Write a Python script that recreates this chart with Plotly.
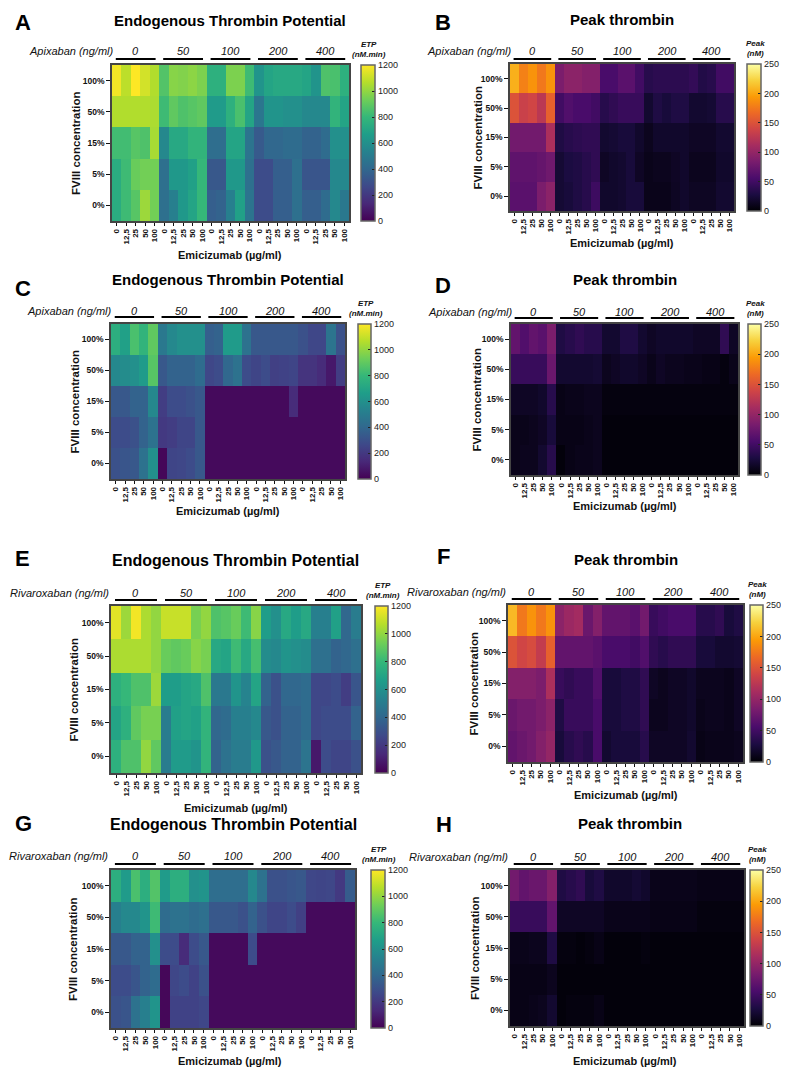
import plotly.graph_objects as go

W, H = 789, 1069

# FVIII rows (top to bottom), emicizumab columns inside each anticoagulant dose group
fviii = ["100%", "50%", "15%", "5%", "0%"]
emici = ["0", "12,5", "25", "50", "100"]
doses = ["0", "50", "100", "200", "400"]

# ETP (nM.min), apixaban, plasma 1
etp_a = [
    [1180, 1080, 1200, 1120, 1060, 870, 980, 970, 990, 960, 760, 760, 960, 960, 820, 620, 700, 720, 720, 720, 700, 620, 860, 850, 760],
    [1060, 1060, 1060, 1060, 1050, 820, 900, 860, 880, 900, 650, 650, 760, 850, 700, 470, 620, 620, 600, 600, 560, 560, 560, 780, 700],
    [830, 830, 880, 860, 1040, 560, 720, 720, 780, 780, 430, 430, 700, 700, 460, 340, 400, 400, 420, 420, 380, 380, 420, 600, 600],
    [740, 820, 920, 940, 940, 440, 640, 640, 680, 800, 330, 330, 640, 640, 440, 280, 280, 360, 360, 440, 320, 320, 320, 560, 560],
    [740, 820, 880, 1020, 940, 440, 520, 640, 700, 800, 360, 380, 520, 680, 460, 280, 280, 360, 360, 440, 360, 360, 420, 560, 480],
]
# Peak thrombin (nM), apixaban, plasma 1
peak_b = [
    [205, 180, 190, 175, 190, 85, 95, 95, 90, 90, 55, 55, 65, 65, 50, 35, 38, 38, 38, 38, 42, 32, 35, 50, 50],
    [150, 135, 140, 125, 160, 50, 60, 55, 55, 50, 35, 40, 45, 45, 45, 20, 30, 25, 30, 30, 20, 20, 22, 35, 35],
    [80, 80, 80, 80, 115, 30, 35, 38, 40, 40, 20, 22, 25, 25, 18, 12, 18, 18, 18, 18, 15, 15, 15, 20, 20],
    [68, 68, 68, 72, 78, 22, 28, 30, 35, 40, 15, 18, 20, 25, 15, 10, 12, 12, 15, 18, 12, 12, 12, 18, 18],
    [65, 65, 65, 85, 95, 22, 25, 30, 35, 48, 18, 18, 20, 25, 25, 10, 10, 10, 14, 18, 14, 14, 14, 20, 20],
]
# ETP (nM.min), apixaban, plasma 2
etp_c = [
    [750, 680, 850, 780, 900, 480, 560, 600, 600, 600, 360, 380, 650, 650, 450, 330, 330, 330, 330, 330, 300, 260, 260, 460, 300],
    [560, 580, 600, 650, 880, 330, 380, 380, 380, 420, 260, 280, 400, 450, 280, 250, 280, 230, 240, 250, 180, 180, 150, 80, 220],
    [330, 330, 380, 380, 560, 220, 280, 280, 300, 330, 30, 30, 30, 30, 30, 30, 30, 30, 30, 150, 30, 30, 30, 30, 30],
    [280, 280, 300, 380, 450, 200, 220, 250, 250, 330, 30, 30, 30, 30, 30, 30, 30, 30, 30, 30, 30, 30, 30, 30, 30],
    [300, 320, 330, 450, 600, 20, 250, 260, 280, 330, 30, 30, 30, 30, 30, 30, 30, 30, 30, 30, 30, 30, 30, 30, 30],
]
# Peak thrombin (nM), apixaban, plasma 2
peak_d = [
    [70, 60, 70, 65, 85, 30, 35, 40, 35, 35, 20, 20, 30, 30, 20, 15, 18, 18, 18, 18, 15, 15, 15, 40, 15],
    [45, 45, 45, 45, 75, 20, 20, 20, 20, 22, 12, 15, 18, 18, 15, 10, 15, 12, 12, 10, 10, 8, 8, 5, 10],
    [15, 15, 15, 18, 35, 8, 10, 10, 12, 12, 5, 5, 5, 5, 5, 5, 5, 5, 5, 5, 5, 5, 5, 5, 5],
    [10, 10, 12, 15, 25, 8, 8, 8, 10, 12, 3, 3, 3, 3, 3, 3, 3, 3, 3, 3, 3, 3, 3, 3, 3],
    [10, 12, 12, 20, 35, 3, 8, 10, 10, 12, 3, 3, 3, 3, 3, 3, 3, 3, 3, 3, 3, 3, 3, 3, 3],
]
# ETP (nM.min), rivaroxaban, plasma 1
etp_e = [
    [1150, 1020, 1180, 1050, 1000, 1100, 1100, 1100, 950, 1000, 860, 880, 920, 820, 980, 660, 600, 720, 660, 720, 520, 520, 680, 400, 500],
    [1050, 1050, 1050, 1050, 1000, 920, 900, 920, 980, 950, 720, 700, 820, 720, 840, 580, 560, 620, 600, 580, 440, 440, 380, 400, 440],
    [760, 800, 860, 860, 1020, 660, 660, 700, 720, 860, 480, 480, 620, 540, 700, 380, 300, 400, 400, 420, 260, 260, 280, 220, 320],
    [700, 760, 900, 950, 950, 500, 680, 700, 680, 780, 400, 420, 520, 520, 560, 330, 300, 380, 380, 420, 260, 280, 280, 280, 380],
    [760, 860, 860, 1000, 900, 500, 650, 650, 620, 780, 380, 450, 500, 500, 640, 300, 330, 380, 380, 460, 80, 280, 250, 250, 300],
]
# Peak thrombin (nM), rivaroxaban, plasma 1
peak_f = [
    [210, 175, 190, 175, 190, 95, 105, 110, 75, 90, 70, 70, 70, 65, 80, 45, 50, 55, 55, 55, 35, 35, 40, 25, 30],
    [150, 140, 145, 130, 160, 70, 70, 70, 70, 65, 55, 55, 55, 50, 60, 40, 35, 40, 40, 40, 25, 25, 20, 20, 22],
    [90, 90, 90, 85, 115, 45, 40, 45, 45, 60, 25, 25, 30, 30, 40, 15, 12, 15, 15, 18, 12, 12, 12, 10, 15],
    [75, 80, 80, 85, 95, 30, 45, 45, 45, 55, 25, 25, 30, 30, 40, 12, 12, 15, 15, 18, 10, 12, 12, 10, 15],
    [70, 75, 80, 90, 100, 25, 35, 40, 35, 55, 20, 25, 25, 25, 35, 15, 15, 15, 15, 20, 8, 10, 10, 10, 12],
]
# ETP (nM.min), rivaroxaban, plasma 2
etp_g = [
    [750, 650, 850, 750, 870, 650, 750, 750, 600, 620, 430, 430, 430, 430, 560, 450, 300, 300, 320, 330, 260, 250, 260, 200, 350],
    [520, 560, 560, 620, 820, 420, 450, 450, 420, 440, 330, 330, 330, 300, 380, 300, 250, 250, 280, 230, 30, 30, 30, 30, 30],
    [330, 330, 380, 380, 600, 280, 280, 150, 280, 330, 30, 30, 30, 30, 280, 30, 30, 30, 30, 30, 30, 30, 30, 30, 30],
    [280, 280, 320, 380, 420, 20, 260, 280, 240, 300, 30, 30, 30, 30, 30, 30, 30, 30, 30, 30, 30, 30, 30, 30, 30],
    [300, 320, 450, 520, 620, 20, 240, 240, 240, 260, 30, 30, 30, 30, 30, 30, 30, 30, 30, 30, 30, 30, 30, 30, 30],
]
# Peak thrombin (nM), rivaroxaban, plasma 2
peak_h = [
    [80, 70, 75, 75, 90, 30, 35, 40, 25, 30, 18, 18, 18, 22, 18, 10, 10, 10, 10, 10, 8, 8, 8, 8, 8],
    [45, 45, 45, 45, 70, 15, 15, 15, 15, 15, 10, 10, 10, 10, 10, 8, 8, 8, 8, 8, 5, 5, 5, 5, 5],
    [10, 10, 12, 12, 30, 5, 5, 3, 5, 8, 3, 3, 3, 3, 5, 3, 3, 3, 3, 3, 3, 3, 3, 3, 3],
    [8, 8, 8, 8, 12, 3, 3, 3, 3, 3, 3, 3, 3, 3, 3, 3, 3, 3, 3, 3, 3, 3, 3, 3, 3],
    [8, 8, 10, 12, 20, 3, 5, 5, 5, 8, 3, 3, 3, 3, 3, 3, 3, 3, 3, 3, 3, 3, 3, 3, 3],
]

FONT = "Liberation Sans, Arial, sans-serif"

# pixel layout of each panel
panels = [
    dict(letter="A", z=etp_a, kind="etp", drug="Apixaban", hm=(104, 341, 57, 213), cb=(353, 367),
         title=(222, 13, 15), let=(15, 15), lab=(107, 43), line=51, emi=(222, 247), fv=68),
    dict(letter="B", z=peak_b, kind="peak", drug="Apixaban", hm=(502, 726, 56, 203), cb=(739, 753),
         title=(614, 12, 15), let=(435, 15), lab=(505, 43), line=51, emi=(614, 235), fv=469),
    dict(letter="C", z=etp_c, kind="etp", drug="Apixaban", hm=(103, 337, 316, 471), cb=(350, 363),
         title=(220, 272, 15), let=(15, 280), lab=(105, 303), line=309, emi=(220, 503), fv=67),
    dict(letter="D", z=peak_d, kind="peak", drug="Apixaban", hm=(503, 730, 316, 467), cb=(740, 753),
         title=(617, 272, 15), let=(435, 277), lab=(506, 304), line=310, emi=(617, 498), fv=469),
    dict(letter="E", z=etp_e, kind="etp", drug="Rivaroxaban", hm=(103, 353, 598, 765), cb=(367, 380),
         title=(228, 552, 16), let=(14, 550), lab=(103, 585), line=592, emi=(228, 800), fv=65),
    dict(letter="F", z=peak_f, kind="peak", drug="Rivaroxaban", hm=(500, 735, 597, 754), cb=(742, 755),
         title=(618, 551, 15), let=(435, 548), lab=(500, 584), line=591, emi=(618, 787), fv=465),
    dict(letter="G", z=etp_g, kind="etp", drug="Rivaroxaban", hm=(103, 347, 862, 1020), cb=(363, 377),
         title=(225, 816, 16), let=(15, 815), lab=(102, 848), line=856, emi=(222, 1053), fv=65),
    dict(letter="H", z=peak_h, kind="peak", drug="Rivaroxaban", hm=(502, 736, 862, 1018), cb=(742, 755),
         title=(622, 815, 15), let=(436, 816), lab=(502, 849), line=856, emi=(617, 1053), fv=467),
]


def px(x):
    return x / W


def py(y):
    return 1 - y / H


def note(x, y, text, size, **kw):
    # paper-anchored text, centred on (x, y) in pixels unless told otherwise
    d = dict(x=px(x), y=py(y), xref="paper", yref="paper", text=text, showarrow=False,
             xanchor="center", yanchor="middle", font=dict(size=size, color="#111"))
    d.update(kw)
    return d


fig = go.Figure()
layout = dict(width=W, height=H, margin=dict(l=0, r=0, t=0, b=0), autosize=False,
              plot_bgcolor="white", paper_bgcolor="white", font=dict(family=FONT, color="#111"))
annotations = []
shapes = []

for i, p in enumerate(panels):
    n = "" if i == 0 else str(i + 1)
    xa, ya = "x" + n, "y" + n
    x0, x1, y0, y1 = p["hm"]
    etp = p["kind"] == "etp"
    cols = list(range(len(emici) * len(doses)))

    fig.add_trace(go.Heatmap(
        z=p["z"], x=cols, y=fviii, xaxis=xa, yaxis=ya,
        colorscale="Viridis" if etp else "Inferno",
        zmin=0, zmax=1200 if etp else 250,
        colorbar=dict(
            x=px(p["cb"][0]), xanchor="left", xpad=0,
            y=py(y0), yanchor="top", ypad=0,
            len=(y1 - y0) / H, lenmode="fraction",
            thickness=p["cb"][1] - p["cb"][0], thicknessmode="pixels",
            outlinecolor="#666", outlinewidth=1.5,
            tickvals=list(range(0, 1201, 200)) if etp else list(range(0, 251, 50)),
            ticks="inside", ticklen=3, tickcolor="#222",
            tickfont=dict(size=9, color="#222"),
        ),
        hovertemplate="%{y} / %{x}: %{z}<extra></extra>",
    ))

    layout["xaxis" + n] = dict(
        domain=[px(x0), px(x1)], anchor=ya, range=[-0.5, len(cols) - 0.5],
        tickvals=cols, ticktext=emici * len(doses), tickangle=-90,
        tickfont=dict(size=8, color="#111", family=FONT, weight="bold"),
        ticks="outside", ticklen=3, tickcolor="#111",
        showline=True, mirror=True, linecolor="#444", linewidth=1.5,
        showgrid=False, zeroline=False, fixedrange=True,
    )
    layout["yaxis" + n] = dict(
        domain=[py(y1), py(y0)], anchor=xa, range=[len(fviii) - 0.5, -0.5],
        type="category",
        tickfont=dict(size=8.5, color="#111", family=FONT, weight="bold"),
        ticks="outside", ticklen=4, tickcolor="#111",
        showline=True, mirror=True, linecolor="#444", linewidth=1.5,
        showgrid=False, zeroline=False, fixedrange=True,
    )

    # panel letter and title
    annotations.append(note(*p["let"], "<b>%s</b>" % p["letter"], 22, font=dict(size=22, color="black")))
    tx, ty, ts = p["title"]
    title = "Endogenous Thrombin Potential" if etp else "Peak thrombin"
    annotations.append(note(tx, ty, "<b>%s</b>" % title, ts, font=dict(size=ts, color="black")))
    # drug dose label and group labels with underlines
    annotations.append(note(*p["lab"], "<i>%s (ng/ml)</i>" % p["drug"], 11, xanchor="right"))
    for g, d in enumerate(doses):
        c = g * len(emici) + 2
        annotations.append(dict(x=c, y=py(p["lab"][1]), xref=xa, yref="paper",
                                xanchor="center", yanchor="middle",
                                text="<i>%s</i>" % d, showarrow=False,
                                font=dict(size=11, color="#111")))
        shapes.append(dict(type="line", xref=xa, yref="paper", x0=c - 2.1, x1=c + 2.1,
                           y0=py(p["line"]), y1=py(p["line"]), line=dict(color="black", width=2)))
    # axis titles
    annotations.append(note(*p["emi"], "<b>Emicizumab (µg/ml)</b>", 11))
    annotations.append(note(p["fv"], (y0 + y1) / 2, "<b>FVIII concentration</b>", 11.5, textangle=-90))
    # colorbar title
    cbt = "ETP<br>(nM.min)" if etp else "Peak<br>(nM)"
    annotations.append(note((p["cb"][0] + p["cb"][1]) / 2 + 1, y0 - 4, "<b><i>%s</i></b>" % cbt, 8,
                            yanchor="bottom"))

layout["annotations"] = annotations
layout["shapes"] = shapes
fig.update_layout(**layout)

fig.write_html("out.html")
